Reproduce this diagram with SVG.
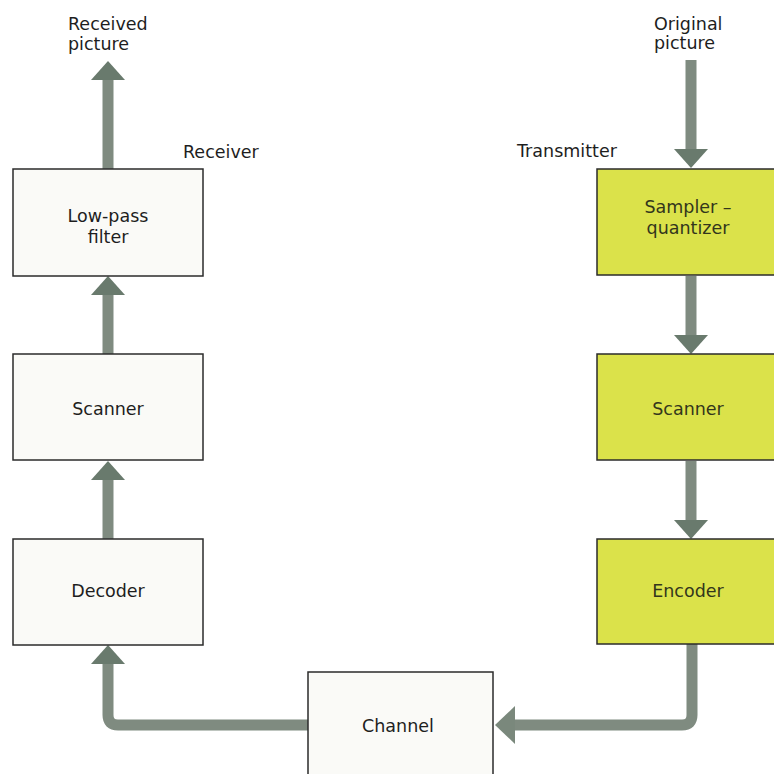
<svg xmlns="http://www.w3.org/2000/svg" width="774" height="774" viewBox="0 0 774 774">
<defs>
<style>
.bg{fill:#ffffff}
.box{fill:#fafaf7;stroke:#2b2b2b;stroke-width:1.5}
.ybox{fill:#dbe24a;stroke:#2b2b2b;stroke-width:1.5}
.t{font-family:"DejaVu Sans","Liberation Sans",sans-serif;font-size:17.5px;fill:#1e1e1e}
.ty{font-family:"DejaVu Sans","Liberation Sans",sans-serif;font-size:17.5px;fill:#33361c}
.c{text-anchor:middle}
.arrow{fill:none;stroke:#7f8b80;stroke-width:11;stroke-linejoin:round}
</style>
<marker id="head" markerUnits="userSpaceOnUse" viewBox="0 0 19 34" refX="0" refY="17" markerWidth="19" markerHeight="34" orient="auto">
<path d="M0,0 L19,17 L0,34 Z" fill="#697a6d"/>
</marker>
<marker id="headL" markerUnits="userSpaceOnUse" viewBox="0 0 20 38" refX="0" refY="19" markerWidth="20" markerHeight="38" orient="auto">
<path d="M0,0 L20,19 L0,38 Z" fill="#7a887c"/>
</marker>
</defs>
<rect class="bg" x="0" y="0" width="774" height="774"/>

<g id="connectors">
<path class="arrow" d="M108,169 V80" marker-end="url(#head)"/>
<path class="arrow" d="M108,354 V295" marker-end="url(#head)"/>
<path class="arrow" d="M108,539 V480" marker-end="url(#head)"/>
<path class="arrow" d="M308,725 H118 Q108,725 108,715 V664" marker-end="url(#head)"/>
<path class="arrow" d="M691,60 V149" marker-end="url(#head)"/>
<path class="arrow" d="M691,276 V335" marker-end="url(#head)"/>
<path class="arrow" d="M691,461 V520" marker-end="url(#head)"/>
<path class="arrow" d="M692,644 V715 Q692,725 682,725 H515" marker-end="url(#headL)"/>
</g>

<g id="labels">
<text class="t" x="68" y="30">Received</text>
<text class="t" x="68" y="50">picture</text>
<text class="t" x="183" y="158">Receiver</text>
<text class="t" x="654" y="30">Original</text>
<text class="t" x="654" y="49">picture</text>
<text class="t" x="517" y="157">Transmitter</text>
</g>

<g id="lowpass">
<rect class="box" x="13" y="169" width="190" height="107"/>
<text class="t c" x="108" y="222">Low-pass</text>
<text class="t c" x="108" y="243">filter</text>
</g>
<g id="rscanner">
<rect class="box" x="13" y="354" width="190" height="106"/>
<text class="t c" x="108" y="415">Scanner</text>
</g>
<g id="decoder">
<rect class="box" x="13" y="539" width="190" height="106"/>
<text class="t c" x="108" y="597">Decoder</text>
</g>
<g id="sampler">
<rect class="ybox" x="597" y="169" width="180" height="106"/>
<text class="ty c" x="688" y="213">Sampler –</text>
<text class="ty c" x="688" y="234">quantizer</text>
</g>
<g id="tscanner">
<rect class="ybox" x="597" y="354" width="180" height="106"/>
<text class="ty c" x="688" y="415">Scanner</text>
</g>
<g id="encoder">
<rect class="ybox" x="597" y="539" width="180" height="105"/>
<text class="ty c" x="688" y="597">Encoder</text>
</g>
<g id="channel">
<rect class="box" x="308" y="672" width="185" height="110"/>
<text class="t c" x="398" y="732">Channel</text>
</g>
</svg>
